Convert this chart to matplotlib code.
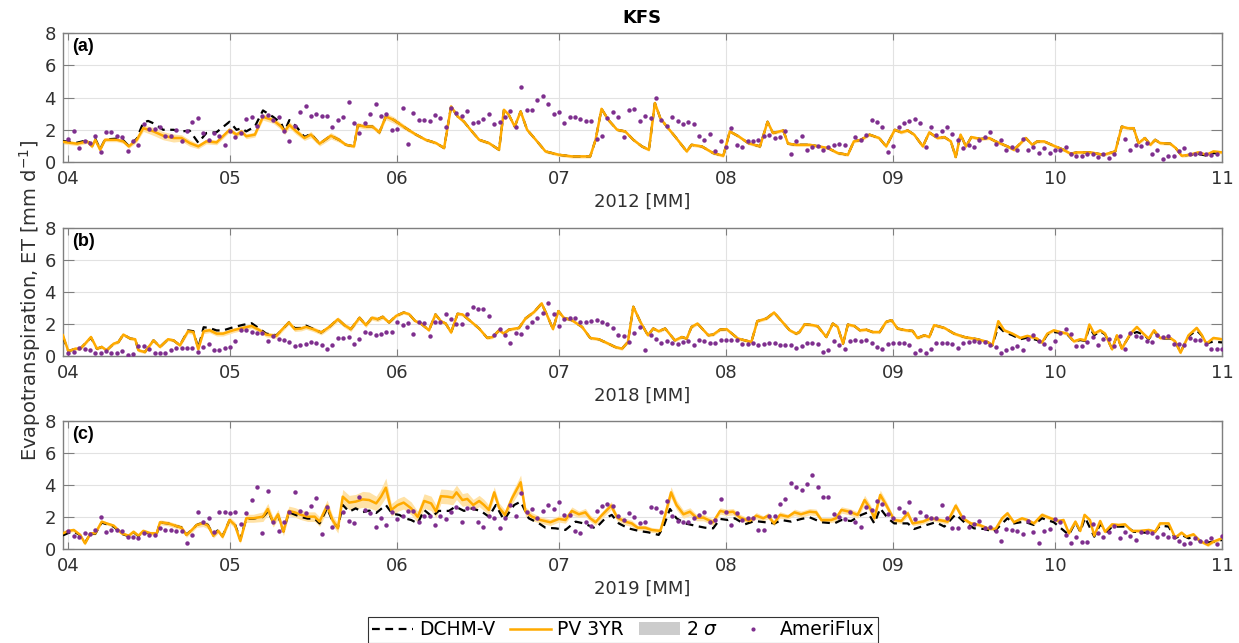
# -*- coding: utf-8 -*-
"""
KFS 站点蒸散发对比：DCHM-V / PV 3YR (2σ) / AmeriFlux，2012、2018、2019 三个生长季。
输出：out.png
"""

import numpy as np
import pandas as pd
import matplotlib
matplotlib.use("Agg")
import matplotlib.pyplot as plt
import matplotlib.dates as mdates
from matplotlib.lines import Line2D
from matplotlib.patches import Patch

matplotlib.rcParams["font.family"] = ["DejaVu Sans"]

ORANGE = "#FFAA00"
BAND = "#FFE2A6"
PURPLE = "#7E2F8E"
AXIS_GRAY = "#7F7F7F"
TEXT_GRAY = "#303030"

# ---- 2012 ----  (days since Apr 1)
PV_DAY_2012 = [
    -1, 1.6, 3.5, 4.4, 5, 5.9, 6.8, 9, 10.2, 11.2,
    12.7, 13.9, 15.8, 17.6, 19.5, 21, 22.5, 24.1, 25.6, 27.5,
    29.9, 31.2, 32.1, 33, 34.6, 36.1, 38, 39.5, 40.1, 41,
    42.3, 43.8, 45, 46.6, 48.7, 50.2, 51.5, 53, 53.7, 55,
    56.4, 57.7, 58.9, 60.4, 62.6, 64.5, 66.3, 68.2, 69.7, 71,
    72.2, 73.4, 74.6, 76.2, 78, 79.9, 80.8, 81.7, 82.8, 83.9,
    85.1, 86.7, 88.5, 91, 93.4, 96.8, 97.8, 98.9, 100.2, 101.8,
    103.3, 104.8, 106.4, 107.7, 108.8, 109.8, 111, 112.5, 114.7, 115.6,
    117.5, 119.6, 121.5, 122.7, 124.3, 126.1, 128.3, 129.7, 130.7, 132.6,
    133.5, 135, 137.5, 140.9, 142.7, 144.6, 145.7, 147, 148.6, 150.4,
    151.7, 153.3, 154.5, 155.7, 156.9, 158.5, 159.7, 161.2, 162.5, 163.7,
    164.6, 165.5, 166.5, 167.5, 169.2, 170.8, 172, 174.2, 175.4, 177.6,
    178.8, 179.7, 181, 182.8, 184.6, 185.9, 187.1, 189.6, 192, 194.2,
    195.4, 196.5, 197.6, 198.5, 199.7, 200.7, 201.6, 202.5, 204.4, 205.4,
    206.5, 208, 209.6, 211.1, 212.4, 214,
]
PV_ET_2012 = [
    1.25, 1.14, 1.28, 0.97, 1.38, 0.76, 1.38, 1.38, 1.28, 0.97,
    1.38, 2.1, 1.9, 1.63, 1.49, 1.49, 1.18, 0.97, 1.28, 1.22,
    2.0, 1.7, 1.9, 1.6, 1.7, 2.8, 2.6, 2.2, 1.9, 2.3,
    1.9, 1.49, 1.7, 1.14, 1.63, 1.38, 1.07, 0.97, 2.3, 2.2,
    2.2, 1.84, 2.83, 2.6, 2.1, 1.7, 1.38, 1.18, 0.87, 3.45,
    2.83, 2.5, 2.0, 1.38, 1.18, 0.76, 3.24, 2.93, 2.2, 3.14,
    2.0, 1.38, 0.66, 0.45, 0.35, 0.35, 1.38, 3.3, 2.6, 2.0,
    1.9, 1.38, 0.97, 0.76, 3.66, 2.73, 2.2, 1.6, 0.66, 1.07,
    0.97, 0.56, 0.39, 1.9, 1.6, 1.18, 0.97, 2.5, 1.8, 1.96,
    1.14, 1.07, 1.07, 0.87, 0.56, 0.45, 1.28, 1.38, 1.7, 1.49,
    0.97, 2.0, 1.84, 1.96, 1.7, 0.97, 1.84, 1.49, 1.55, 1.28,
    0.31, 1.7, 0.97, 1.55, 1.43, 1.49, 1.28, 0.97, 0.76, 1.49,
    1.07, 1.28, 1.28, 1.01, 0.76, 0.52, 0.6, 0.6, 0.45, 0.66,
    2.2, 2.1, 2.1, 1.18, 1.49, 1.07, 1.38, 1.18, 1.14, 0.87,
    0.39, 0.45, 0.6, 0.45, 0.66, 0.6,
]
PV_SIG_2012 = [
    0.12, 0.12, 0.12, 0.12, 0.12, 0.12, 0.12, 0.12, 0.12, 0.12,
    0.15, 0.2, 0.25, 0.25, 0.25, 0.2, 0.2, 0.15, 0.15, 0.15,
    0.15, 0.15, 0.15, 0.15, 0.15, 0.2, 0.2, 0.2, 0.2, 0.2,
    0.2, 0.15, 0.2, 0.15, 0.2, 0.15, 0.1, 0.1, 0.15, 0.15,
    0.15, 0.15, 0.2, 0.2, 0.15, 0.1, 0.1, 0.1, 0.1, 0.12,
    0.1, 0.1, 0.1, 0.1, 0.1, 0.1, 0.1, 0.1, 0.1, 0.1,
    0.1, 0.1, 0.1, 0.1, 0.1, 0.1, 0.1, 0.1, 0.1, 0.1,
    0.1, 0.1, 0.1, 0.1, 0.1, 0.1, 0.1, 0.1, 0.1, 0.1,
    0.1, 0.1, 0.1, 0.1, 0.1, 0.1, 0.1, 0.1, 0.1, 0.1,
    0.1, 0.1, 0.1, 0.1, 0.1, 0.1, 0.1, 0.1, 0.1, 0.1,
    0.1, 0.1, 0.1, 0.1, 0.1, 0.1, 0.1, 0.1, 0.1, 0.1,
    0.1, 0.1, 0.1, 0.1, 0.1, 0.1, 0.1, 0.1, 0.1, 0.1,
    0.1, 0.1, 0.1, 0.1, 0.1, 0.1, 0.1, 0.1, 0.1, 0.1,
    0.1, 0.1, 0.1, 0.1, 0.1, 0.1, 0.1, 0.1, 0.1, 0.1,
    0.1, 0.1, 0.1, 0.1, 0.1, 0.1,
]
DCHM_DAY_2012 = [
    -1, 1.6, 3.5, 4.4, 5, 5.9, 6.8, 9, 10.2, 11.2,
    12.7, 13.9, 14.8, 15.8, 17.6, 19.5, 21, 22.5, 24.1, 25.6,
    27.5, 29.9, 31.2, 32.1, 33, 34.6, 36.1, 38, 39.5, 40.1,
    41, 42.3, 43.8, 45, 46.6, 48.7, 50.2, 51.5, 53, 53.7,
    55, 56.4, 57.7, 58.9, 60.4, 62.6, 64.5, 66.3, 68.2, 69.7,
    71, 72.2, 73.4, 74.6, 76.2, 78, 79.9, 80.8, 81.7, 82.8,
    83.9, 85.1, 86.7, 88.5, 91, 93.4, 96.8, 97.8, 98.9, 100.2,
    101.8, 103.3, 104.8, 106.4, 107.7, 108.8, 109.8, 111, 112.5, 114.7,
    115.6, 117.5, 119.6, 121.5, 122.7, 124.3, 126.1, 128.3, 129.7, 130.7,
    132.6, 133.5, 135, 137.5, 140.9, 142.7, 144.6, 145.7, 147, 148.6,
    150.4, 151.7, 153.3, 154.5, 155.7, 156.9, 158.5, 159.7, 161.2, 162.5,
    163.7, 164.6, 165.5, 166.5, 167.5, 169.2, 170.8, 172, 174.2, 175.4,
    177.6, 178.8, 179.7, 181, 182.8, 184.6, 185.9, 187.1, 189.6, 192,
    194.2, 195.4, 196.5, 197.6, 198.5, 199.7, 200.7, 201.6, 202.5, 204.4,
    205.4, 206.5, 208, 209.6, 211.1, 212.4, 214,
]
DCHM_ET_2012 = [
    1.3, 1.2, 1.35, 1.0, 1.45, 0.8, 1.4, 1.45, 1.35, 1.0,
    1.45, 2.45, 2.55, 2.4, 2.0, 2.0, 1.9, 1.95, 1.2, 1.8,
    1.85, 2.5, 2.0, 2.1, 1.9, 2.2, 3.2, 2.8, 2.4, 1.9,
    2.6, 2.2, 1.55, 1.75, 1.14, 1.63, 1.38, 1.07, 0.97, 2.3,
    2.2, 2.2, 1.84, 2.83, 2.6, 2.1, 1.7, 1.38, 1.18, 0.87,
    3.45, 2.83, 2.5, 2.0, 1.38, 1.18, 0.76, 3.24, 2.93, 2.2,
    3.14, 2.0, 1.38, 0.66, 0.45, 0.35, 0.35, 1.38, 3.3, 2.6,
    2.0, 1.9, 1.38, 0.97, 0.76, 3.66, 2.73, 2.2, 1.6, 0.66,
    1.07, 0.97, 0.56, 0.39, 1.9, 1.6, 1.18, 0.97, 2.5, 1.8,
    1.96, 1.14, 1.07, 1.07, 0.87, 0.56, 0.45, 1.28, 1.38, 1.7,
    1.49, 0.97, 2.0, 1.84, 1.96, 1.7, 0.97, 1.84, 1.49, 1.55,
    1.28, 0.31, 1.7, 0.97, 1.55, 1.43, 1.49, 1.28, 0.97, 0.76,
    1.49, 1.07, 1.28, 1.28, 1.01, 0.76, 0.52, 0.6, 0.6, 0.45,
    0.66, 2.2, 2.1, 2.1, 1.18, 1.49, 1.07, 1.38, 1.18, 1.14,
    0.87, 0.39, 0.45, 0.5, 0.4, 0.55, 0.55,
]
FLUX_ET_2012 = [
    1.43, 1.9, 0.87, 1.28, 1.18, 1.59, 0.6, 1.84, 1.84, 1.63,
    1.55, 0.66, 1.28, 1.03, 2.38, 2.05, 2.05, 2.2, 1.63, 1.59,
    2.0, 1.28, 1.9, 2.46, 2.73, 1.8, 1.38, 1.8, 1.63, 1.07,
    1.9, 1.55, 1.8, 2.67, 2.79, 2.25, 2.83, 2.93, 2.58, 2.79,
    1.94, 1.28, 2.25, 3.08, 3.49, 2.87, 3.0, 2.87, 2.87, 2.2,
    2.58, 2.79, 3.7, 2.42, 1.8, 2.42, 2.95, 3.62, 2.83, 3.0,
    1.96, 2.05, 3.35, 1.14, 3.04, 2.58, 2.62, 2.52, 2.93, 2.73,
    2.2, 3.35, 3.04, 2.87, 3.18, 2.42, 2.48, 2.67, 3.0, 2.38,
    2.46, 2.79, 3.14, 2.2, 4.65, 3.2, 3.2, 3.82, 4.07, 3.62,
    2.95, 3.08, 2.42, 2.79, 2.79, 2.67, 2.56, 2.56, 1.43, 1.63,
    2.73, 3.08, 2.79, 1.55, 3.24, 3.28, 2.54, 2.83, 2.75, 3.97,
    2.62, 2.25, 2.79, 2.52, 2.38, 2.5, 2.33, 1.59, 1.34, 1.76,
    0.66, 1.28, 0.93, 2.1, 1.07, 0.93, 1.3, 1.3, 1.38, 1.63,
    1.7, 1.51, 1.55, 1.9, 0.52, 1.28, 1.59, 0.76, 0.93, 0.97,
    0.76, 0.93, 1.03, 1.1, 1.03, np.nan, 1.55, 1.38, 1.69, 2.58,
    2.5, 2.19, 0.62, 0.97, 2.17, 2.42, 2.52, 2.69, 2.42, 0.91,
    2.15, 1.69, 1.94, 2.15, 1.76, 1.34, 0.87, 1.03, 0.93, 1.34,
    1.55, 1.84, 1.1, 1.38, 0.76, 0.93, 0.76, 1.43, 0.72, 0.93,
    0.56, 0.85, 0.56, 0.76, 0.76, 0.91, 0.5, 0.35, 0.35, 0.52,
    0.52, 0.31, 0.52, 0.25, 0.52, np.nan, 1.43, 0.76, 1.05, 0.97,
    1.18, 0.48, 0.72, 0.19, 0.39, 0.39, 0.66, 0.85, 0.52, 0.48,
    0.56, 0.52, 0.45, 0.52,
]

# ---- 2018 ----
PV_DAY_2018 = [
    -1, 0, 1.3, 2.2, 3.1, 4.2, 5.3, 6.2, 7.1, 8.4,
    9.3, 10.2, 11.5, 12.4, 13, 14.2, 15.8, 17, 18.5, 19.5,
    20.7, 22.2, 23.2, 24.1, 25.1, 26.2, 27.5, 28.7, 30.6, 32.4,
    34, 35.5, 36.7, 38.6, 39.5, 40.9, 42, 43.2, 44.1, 45.4,
    46.9, 48.4, 50, 51.2, 52.4, 54, 55.2, 56.3, 57.4, 58.3,
    59.5, 60.8, 62.2, 63.2, 64.3, 65.4, 66.9, 68.1, 69.1, 70,
    71, 72.2, 73.1, 74.6, 76.2, 77.7, 78.7, 79.9, 80.8, 81.7,
    83.6, 84.8, 86.4, 87.8, 88.8, 89.9, 90.9, 91.9, 93.4, 95.3,
    96.8, 98.4, 100.2, 101.4, 102.7, 103.8, 104.8, 106.1, 107.5, 108.5,
    109.5, 110.7, 112.5, 113.8, 114.7, 115.6, 116.7, 118.7, 119.6, 120.9,
    122.1, 124.2, 126.7, 127.8, 129.5, 130.9, 132.3, 133.8, 135, 135.6,
    136.6, 138.1, 139, 140.6, 141.8, 142.7, 143.7, 144.6, 145.8, 146.8,
    148, 149.2, 150.5, 151.7, 152.7, 153.8, 155.4, 156.6, 157.5, 158.8,
    159.7, 160.6, 162.5, 164.3, 166.2, 168.6, 170.5, 171.4, 172.5, 173.6,
    175.1, 176.6, 177.9, 179.7, 180.6, 181.6, 182.8, 184, 185.3, 186.5,
    187.7, 188.6, 189.4, 190.3, 191.4, 192.3, 193.6, 194.5, 195.4, 197,
    198.2, 199.4, 200.4, 201.4, 202.5, 204.4, 205.3, 206.3, 207.8, 209.3,
    210.2, 211.1, 212.4, 214,
]
PV_ET_2018 = [
    1.3, 0.3, 0.46, 0.46, 0.77, 1.19, 0.46, 0.57, 0.36, 0.77,
    0.88, 1.34, 1.09, 1.05, 0.36, 0.25, 0.98, 0.57, 1.05, 0.98,
    0.67, 1.55, 1.5, 0.42, 1.55, 1.61, 1.4, 1.4, 1.61, 1.76,
    1.88, 1.61, 1.34, 1.26, 1.61, 2.1, 1.68, 1.72, 1.82, 1.68,
    1.47, 1.82, 2.3, 1.93, 1.68, 2.39, 1.93, 2.39, 2.3, 2.45,
    2.1, 2.51, 2.72, 2.62, 2.2, 2.03, 1.61, 2.6, 2.18, 2.03,
    1.47, 2.64, 2.6, 2.18, 1.72, 1.13, 1.19, 1.61, 1.4, 1.65,
    1.76, 2.35, 2.76, 3.29, 2.55, 1.68, 2.81, 2.39, 2.24, 1.82,
    1.13, 1.05, 0.77, 0.57, 0.46, 0.88, 3.08, 2.14, 1.3, 1.72,
    1.55, 1.72, 0.98, 1.19, 1.09, 1.82, 2.03, 1.3, 1.34, 1.65,
    1.68, 1.09, 0.88, 2.18, 2.35, 2.72, 2.18, 1.61, 1.4, 1.5,
    1.99, 1.93, 1.86, 1.19, 2.03, 1.82, 0.77, 1.97, 1.88, 1.61,
    1.65, 1.5, 1.5, 2.14, 2.24, 1.72, 1.61, 1.57, 1.13, 1.3,
    1.19, 1.93, 1.76, 1.4, 1.19, 1.05, 0.88, 0.67, 2.18, 1.61,
    1.4, 1.13, 1.26, 1.09, 0.84, 1.4, 1.61, 1.5, 1.4, 0.92,
    1.05, 0.98, 1.97, 1.4, 1.61, 1.4, 0.42, 1.3, 0.46, 1.4,
    1.82, 1.4, 1.09, 1.61, 1.13, 1.13, 0.92, 0.21, 1.3, 1.76,
    1.34, 0.77, 1.13, 1.05,
]
PV_SIG_2018 = [
    0.1, 0.1, 0.1, 0.1, 0.1, 0.1, 0.1, 0.1, 0.1, 0.1,
    0.1, 0.1, 0.1, 0.1, 0.1, 0.1, 0.1, 0.1, 0.1, 0.1,
    0.12, 0.15, 0.15, 0.12, 0.15, 0.15, 0.15, 0.15, 0.15, 0.15,
    0.15, 0.15, 0.15, 0.15, 0.15, 0.15, 0.15, 0.15, 0.15, 0.15,
    0.15, 0.15, 0.15, 0.15, 0.15, 0.15, 0.15, 0.15, 0.15, 0.15,
    0.1, 0.1, 0.1, 0.1, 0.1, 0.1, 0.1, 0.1, 0.1, 0.1,
    0.1, 0.1, 0.1, 0.1, 0.1, 0.1, 0.1, 0.1, 0.1, 0.1,
    0.1, 0.1, 0.1, 0.1, 0.1, 0.1, 0.1, 0.1, 0.1, 0.1,
    0.1, 0.1, 0.1, 0.1, 0.1, 0.1, 0.1, 0.1, 0.1, 0.1,
    0.1, 0.1, 0.1, 0.1, 0.1, 0.1, 0.1, 0.1, 0.1, 0.1,
    0.1, 0.1, 0.1, 0.1, 0.1, 0.1, 0.1, 0.1, 0.1, 0.1,
    0.1, 0.1, 0.1, 0.1, 0.1, 0.1, 0.1, 0.1, 0.1, 0.1,
    0.1, 0.1, 0.1, 0.1, 0.1, 0.1, 0.1, 0.1, 0.1, 0.1,
    0.1, 0.1, 0.1, 0.1, 0.1, 0.1, 0.1, 0.1, 0.1, 0.1,
    0.1, 0.1, 0.1, 0.1, 0.1, 0.1, 0.1, 0.1, 0.1, 0.1,
    0.1, 0.1, 0.1, 0.1, 0.1, 0.1, 0.1, 0.1, 0.1, 0.1,
    0.1, 0.1, 0.1, 0.1, 0.1, 0.1, 0.1, 0.1, 0.1, 0.1,
    0.1, 0.1, 0.1, 0.1,
]
DCHM_DAY_2018 = [
    -1, 0, 1.3, 2.2, 3.1, 4.2, 5.3, 6.2, 7.1, 8.4,
    9.3, 10.2, 11.5, 12.4, 13, 14.2, 15.8, 17, 18.5, 19.5,
    20.7, 22.2, 23.2, 24.1, 25.1, 26.2, 27.5, 28.7, 30.6, 32.4,
    34, 35.5, 36.7, 38.6, 39.5, 40.9, 42, 43.2, 44.1, 45.4,
    46.9, 48.4, 50, 51.2, 52.4, 54, 55.2, 56.3, 57.4, 58.3,
    59.5, 60.8, 62.2, 63.2, 64.3, 65.4, 66.9, 68.1, 69.1, 70,
    71, 72.2, 73.1, 74.6, 76.2, 77.7, 78.7, 79.9, 80.8, 81.7,
    83.6, 84.8, 86.4, 87.8, 88.8, 89.9, 90.9, 91.9, 93.4, 95.3,
    96.8, 98.4, 100.2, 101.4, 102.7, 103.8, 104.8, 106.1, 107.5, 108.5,
    109.5, 110.7, 112.5, 113.8, 114.7, 115.6, 116.7, 118.7, 119.6, 120.9,
    122.1, 124.2, 126.7, 127.8, 129.5, 130.9, 132.3, 133.8, 135, 135.6,
    136.6, 138.1, 139, 140.6, 141.8, 142.7, 143.7, 144.6, 145.8, 146.8,
    148, 149.2, 150.5, 151.7, 152.7, 153.8, 155.4, 156.6, 157.5, 158.8,
    159.7, 160.6, 162.5, 164.3, 166.2, 168.6, 170.5, 171.4, 172.5, 173.6,
    175.1, 176.6, 177.9, 179.7, 180.6, 181.6, 182.8, 184, 185.3, 186.5,
    187.7, 188.6, 189.4, 190.3, 191.4, 192.3, 193.6, 194.5, 195.4, 197,
    198.2, 199.4, 200.4, 201.4, 202.5, 204.4, 205.3, 206.3, 207.8, 209.3,
    210.2, 211.1, 212.4, 214,
]
DCHM_ET_2018 = [
    1.2, 0.3, 0.46, 0.46, 0.77, 1.15, 0.46, 0.57, 0.36, 0.77,
    0.88, 1.34, 1.09, 1.05, 0.36, 0.25, 0.98, 0.57, 1.05, 0.98,
    0.67, 1.6, 1.55, 0.5, 1.8, 1.75, 1.6, 1.6, 1.8, 1.95,
    2.05, 1.7, 1.4, 1.3, 1.6, 2.1, 1.75, 1.75, 1.9, 1.7,
    1.47, 1.82, 2.3, 1.93, 1.68, 2.39, 1.93, 2.39, 2.3, 2.45,
    2.1, 2.51, 2.72, 2.62, 2.2, 2.03, 1.61, 2.6, 2.18, 2.03,
    1.47, 2.64, 2.6, 2.18, 1.72, 1.13, 1.19, 1.61, 1.4, 1.65,
    1.76, 2.35, 2.76, 3.29, 2.55, 1.68, 2.81, 2.39, 2.24, 1.82,
    1.13, 1.05, 0.77, 0.57, 0.46, 0.88, 3.08, 2.14, 1.3, 1.72,
    1.55, 1.72, 0.98, 1.19, 1.09, 1.82, 2.03, 1.3, 1.34, 1.65,
    1.68, 1.09, 0.88, 2.18, 2.35, 2.72, 2.18, 1.61, 1.4, 1.5,
    1.99, 1.93, 1.86, 1.19, 2.03, 1.82, 0.77, 1.97, 1.88, 1.61,
    1.65, 1.5, 1.5, 2.14, 2.24, 1.72, 1.61, 1.57, 1.13, 1.3,
    1.19, 1.93, 1.76, 1.4, 1.19, 1.05, 0.88, 0.67, 1.85, 1.5,
    1.3, 1.05, 1.15, 1.0, 0.8, 1.35, 1.5, 1.45, 1.35, 0.92,
    1.0, 0.95, 1.8, 1.3, 1.55, 1.35, 0.45, 1.25, 0.5, 1.35,
    1.5, 1.35, 1.05, 1.55, 1.1, 1.1, 0.9, 0.25, 1.25, 1.6,
    1.3, 0.8, 0.9, 0.85,
]
FLUX_ET_2018 = [
    0.21, 0.25, 0.5, 0.42, 0.36, 0.21, 0.21, 0.29, 0.21, 0.21,
    0.29, 0.08, 0.15, 0.63, 0.63, 0.42, 0.21, 0.21, 0.17, 0.36,
    0.5, 0.5, 0.5, 0.5, 0.25, 0.57, 0.77, 0.38, 0.38, 0.5,
    0.54, 0.92, 1.61, 1.61, 1.5, 1.47, 1.47, 0.96, 1.26, 1.05,
    0.98, 0.88, 0.63, 0.71, 0.77, 0.88, 0.84, 0.71, 0.42, 0.67,
    1.13, 1.1, 1.17, 0.75, 1.06, 1.52, 1.42, 1.31, 1.38, 1.48,
    1.48, 2.15, 1.94, 2.04, 1.35, 2.15, 2.04, 1.27, 2.15, 2.15,
    2.6, 2.29, 2.0, 2.0, 2.63, 3.08, 2.93, 2.93, 2.51, 1.34,
    1.72, 1.3, 0.82, 1.45, 1.38, 1.82, 2.14, 2.35, 2.72, 3.29,
    2.6, 1.88, 2.3, 2.39, 2.35, 2.1, 2.14, 2.18, 2.24, 2.14,
    2.03, 1.76, 1.34, 1.26, 0.88, 1.47, 1.82, 0.38, 1.34, 1.09,
    0.82, 0.92, 0.84, 0.75, 0.88, 0.96, 0.71, 1.0, 0.96, 0.84,
    0.84, 1.03, 0.98, 0.98, 0.98, 0.77, 0.77, 0.82, 0.71, 0.75,
    0.82, 0.82, 0.71, 0.71, 0.71, 0.52, 0.63, 0.82, 0.82, 0.77,
    0.25, 0.36, 0.92, 0.71, 0.42, 0.92, 0.98, 0.92, 0.98, 0.84,
    0.57, 0.42, 0.77, 0.84, 0.84, 0.84, 0.71, 0.21, 0.36, 0.21,
    0.46, 0.82, 0.82, 0.82, 0.77, 0.5, 0.82, 0.88, 0.92, 0.88,
    0.88, 0.71, 0.57, 0.21, 0.36, 0.5, 0.61, 0.36, 1.09, 1.3,
    0.92, 0.77, 0.5, 0.92, 1.47, 1.68, 1.36, 0.63, 0.63, 0.88,
    1.19, 0.67, 1.05, 1.05, 0.61, 1.26, 0.42, 1.47, 1.26, 1.19,
    0.92, 0.88, 1.3, 1.19, 1.26, 0.77, 0.77, 0.71, 1.13, 0.98,
    0.98, 0.77, 0.46, 0.46, 0.46,
]

# ---- 2019 ----
PV_DAY_2019 = [
    -1, 0, 1, 2.2, 3.1, 4.1, 5, 6.2, 7.1, 8.4,
    9.9, 11.2, 12.1, 13, 13.9, 15.2, 16.4, 17, 18.5, 19.8,
    21, 21.9, 22.9, 23.8, 25, 25.9, 26.9, 27.8, 28.6, 29.9,
    30.9, 31.9, 33, 34.3, 36.1, 37, 38, 38.9, 39.9, 40.9,
    42, 43.2, 44.4, 45.7, 46.6, 48, 49, 50, 50.9, 52.1,
    53.3, 54.6, 55.8, 57.1, 58, 58.9, 59.9, 61.1, 62.2, 63.6,
    64.8, 66, 67.3, 68.2, 69.1, 70.3, 71.3, 72, 73.1, 74,
    75.1, 76.2, 77.1, 78, 79, 79.9, 81, 82.3, 83.9, 84.8,
    86, 87.6, 89.4, 91, 92.2, 93.4, 94.7, 95.9, 96.8, 97.8,
    99, 100.7, 101.8, 103.3, 104.5, 105.6, 107, 108.2, 109.8, 110.7,
    111.8, 112.8, 114.1, 115.3, 116.5, 117.8, 119.6, 120.9, 122.1, 123.3,
    124.6, 126.4, 127.6, 128.9, 129.8, 130.9, 132, 133.5, 134.7, 135.9,
    137.5, 138.7, 139.7, 141.5, 142.4, 143.4, 144.9, 146.4, 147.7, 148.8,
    149.5, 150.6, 151.7, 153.2, 154.5, 155.7, 156.6, 158.5, 160, 161.5,
    163.1, 164.6, 165.9, 167.4, 169, 170.5, 172, 173.2, 174.2, 175.4,
    176.9, 177.9, 179.1, 180.6, 182.2, 183.7, 184.6, 185.6, 186.8, 187.7,
    188.5, 189.5, 190.3, 191.4, 192.3, 193.6, 194.8, 196, 197.3, 198.8,
    200.4, 201.6, 202.5, 204.1, 205.3, 206.5, 207.4, 208.7, 209.9, 211.4,
    212.4, 214,
]
PV_ET_2019 = [
    0.98, 1.13, 1.19, 0.88, 0.35, 0.98, 0.98, 1.71, 1.6, 1.46,
    0.98, 0.83, 1.08, 0.83, 1.13, 0.98, 0.98, 1.67, 1.6, 1.46,
    1.33, 0.88, 1.19, 1.5, 1.6, 1.46, 0.83, 1.13, 0.77, 1.81,
    1.5, 0.5, 1.92, 1.92, 2.02, 2.5, 1.67, 2.17, 1.08, 2.38,
    2.29, 2.13, 2.02, 2.02, 1.71, 2.71, 1.81, 1.29, 3.27, 2.9,
    2.96, 3.1, 3.06, 2.85, 3.27, 3.83, 2.44, 2.75, 2.9, 2.54,
    2.0, 3.0, 2.85, 2.35, 3.3, 3.27, 3.21, 3.54, 3.06, 3.13,
    2.75, 3.0, 2.75, 2.44, 3.54, 2.58, 2.13, 3.17, 4.17, 2.33,
    2.02, 1.81, 1.67, 1.88, 1.81, 2.38, 2.17, 2.29, 1.92, 1.67,
    2.13, 2.71, 1.96, 1.71, 1.6, 1.33, 1.33, 1.19, 1.13, 2.13,
    3.54, 2.75, 2.17, 2.33, 1.96, 1.96, 1.67, 2.38, 2.29, 2.33,
    1.96, 1.75, 2.08, 1.92, 2.08, 1.6, 2.13, 2.02, 2.29, 2.17,
    2.33, 2.29, 1.81, 1.81, 1.92, 2.44, 2.33, 2.13, 3.06, 2.5,
    1.92, 3.38, 2.75, 1.81, 1.75, 2.23, 1.6, 1.71, 1.92, 1.81,
    1.71, 2.71, 1.92, 1.6, 1.5, 1.29, 1.25, 1.92, 2.23, 1.67,
    1.92, 1.81, 1.6, 2.13, 1.92, 1.75, 1.81, 0.98, 1.71, 1.13,
    2.13, 1.81, 0.83, 1.75, 1.08, 1.54, 1.5, 1.54, 1.13, 1.13,
    1.19, 1.08, 1.6, 1.6, 0.71, 1.02, 0.77, 0.92, 0.5, 0.25,
    0.46, 0.67,
]
PV_SIG_2019 = [
    0.1, 0.1, 0.1, 0.1, 0.1, 0.1, 0.1, 0.1, 0.1, 0.1,
    0.1, 0.1, 0.1, 0.1, 0.12, 0.12, 0.12, 0.15, 0.15, 0.15,
    0.15, 0.15, 0.15, 0.15, 0.2, 0.2, 0.15, 0.15, 0.15, 0.2,
    0.2, 0.15, 0.25, 0.25, 0.3, 0.35, 0.3, 0.3, 0.25, 0.3,
    0.3, 0.3, 0.3, 0.3, 0.3, 0.35, 0.3, 0.3, 0.45, 0.45,
    0.45, 0.5, 0.5, 0.45, 0.5, 0.6, 0.4, 0.4, 0.4, 0.4,
    0.35, 0.45, 0.45, 0.4, 0.45, 0.45, 0.45, 0.45, 0.4, 0.4,
    0.35, 0.35, 0.35, 0.3, 0.35, 0.3, 0.3, 0.35, 0.45, 0.3,
    0.25, 0.2, 0.2, 0.2, 0.2, 0.25, 0.2, 0.25, 0.2, 0.2,
    0.2, 0.25, 0.2, 0.2, 0.2, 0.15, 0.15, 0.15, 0.15, 0.25,
    0.35, 0.3, 0.25, 0.25, 0.2, 0.2, 0.2, 0.2, 0.2, 0.2,
    0.2, 0.15, 0.2, 0.15, 0.2, 0.15, 0.2, 0.15, 0.2, 0.2,
    0.2, 0.2, 0.15, 0.15, 0.2, 0.2, 0.2, 0.2, 0.3, 0.25,
    0.2, 0.3, 0.25, 0.15, 0.15, 0.2, 0.15, 0.15, 0.15, 0.15,
    0.15, 0.2, 0.15, 0.12, 0.12, 0.12, 0.12, 0.15, 0.15, 0.12,
    0.12, 0.12, 0.12, 0.15, 0.12, 0.12, 0.12, 0.1, 0.12, 0.1,
    0.12, 0.1, 0.1, 0.1, 0.1, 0.1, 0.1, 0.1, 0.1, 0.1,
    0.1, 0.1, 0.1, 0.1, 0.1, 0.1, 0.1, 0.1, 0.1, 0.1,
    0.1, 0.1,
]
DCHM_DAY_2019 = [
    -1, 0, 1, 2.2, 3.1, 4.1, 5, 6.2, 7.1, 8.4,
    9.9, 11.2, 12.1, 13, 13.9, 15.2, 16.4, 17, 18.5, 19.8,
    21, 21.9, 22.9, 23.8, 25, 25.9, 26.9, 27.8, 28.6, 29.9,
    30.9, 31.9, 33, 34.3, 36.1, 37, 38, 38.9, 39.9, 40.9,
    42, 43.2, 44.4, 45.7, 46.6, 48, 49, 50, 50.9, 52.1,
    53.3, 54.6, 55.8, 57.1, 58.9, 60.1, 61.4, 62.6, 63.6, 64.8,
    66, 67.5, 68.7, 70.6, 71.8, 73.4, 74.6, 76.5, 78, 79.3,
    80.8, 82.7, 83.9, 85.4, 87.3, 88.5, 90.4, 92.2, 94.1, 95.6,
    97.8, 99.6, 100.8, 102.1, 103.9, 105.8, 107.6, 109.5, 110.4, 111.6,
    112.8, 114.4, 116.2, 118.1, 119.6, 120.9, 122.4, 123.6, 125.5, 127.3,
    129.2, 131, 132.3, 134.1, 136, 137.5, 139.7, 142.1, 143.4, 145.2,
    147.1, 148.3, 149.5, 150.6, 152, 153.2, 155.7, 156.9, 158.8, 160.9,
    162.5, 164.6, 166.2, 168, 169.9, 171.7, 174.2, 175.4, 177.3, 179.1,
    180.6, 182.8, 185.6, 186.8, 187.7, 188.6, 190.3, 191.4, 192.7, 193.6,
    196.3, 197.6, 201.3, 202.5, 204.1, 205.3, 206.5, 207.8, 209, 210.2,
    211.8, 214,
]
DCHM_ET_2019 = [
    0.85, 1.0, 1.1, 0.85, 0.4, 0.95, 0.95, 1.65, 1.55, 1.4,
    0.95, 0.8, 1.05, 0.8, 1.1, 0.95, 0.95, 1.65, 1.6, 1.45,
    1.35, 0.9, 1.2, 1.5, 1.65, 1.5, 0.85, 1.2, 0.8, 1.8,
    1.55, 0.6, 1.9, 1.9, 2.0, 2.35, 1.7, 2.1, 1.1, 2.3,
    2.15, 2.0, 1.9, 1.9, 1.6, 2.55, 1.75, 1.33, 2.75, 2.33,
    2.54, 2.3, 2.4, 2.25, 2.75, 2.2, 2.13, 1.9, 1.81, 1.6,
    2.44, 2.02, 2.38, 2.38, 2.65, 2.38, 2.54, 2.38, 2.02, 2.75,
    1.81, 2.75, 2.96, 1.92, 1.6, 1.33, 1.29, 1.19, 1.71, 1.6,
    1.29, 1.92, 2.13, 1.6, 1.29, 1.13, 1.04, 0.88, 1.4, 2.5,
    1.92, 1.6, 1.46, 1.33, 1.29, 1.88, 1.81, 1.92, 1.54, 1.75,
    1.67, 1.6, 1.81, 1.71, 1.88, 1.98, 1.67, 1.6, 1.81, 1.75,
    2.13, 2.29, 1.6, 2.54, 1.92, 1.6, 1.6, 1.25, 1.46, 1.67,
    1.4, 2.17, 1.67, 1.29, 1.25, 1.08, 1.92, 1.6, 1.71, 1.5,
    1.92, 1.67, 0.88, 1.67, 1.08, 1.96, 0.77, 1.54, 1.08, 1.4,
    1.4, 1.08, 0.98, 1.46, 1.4, 0.67, 0.88, 0.67, 0.77, 0.42,
    0.42, 0.56,
]
FLUX_ET_2019 = [
    1.13, 0.81, 0.77, 0.98, 0.92, 1.19, 1.98, 1.04, 1.17, 1.19,
    1.13, 0.77, 0.77, 0.71, 1.02, 0.88, 0.88, 1.29, 1.19, 1.19,
    1.13, 1.13, 0.35, 0.88, 2.29, 1.67, 1.92, 1.04, 2.33, 2.33,
    2.23, 2.33, 1.54, 2.23, 3.06, 3.9, 0.98, 3.63, 1.67, 1.13,
    1.67, 2.33, 3.58, 2.38, 2.23, 2.71, 3.21, 0.92, 2.65, 1.4,
    np.nan, 2.29, 1.75, 1.6, 3.27, 2.44, 2.27, 1.35, 1.92, 1.5,
    2.33, 1.85, 2.06, 2.4, 2.37, 1.69, 2.06, 2.06, 1.5, 2.06,
    1.85, 2.33, 2.65, 1.67, 2.54, 2.58, 1.67, 1.35, 2.08, 1.92,
    1.33, 1.92, 2.75, 2.08, 3.48, 2.29, 2.5, 1.96, 2.38, 2.75,
    2.5, 2.96, 2.13, 2.13, 1.13, 0.98, 1.67, 1.46, 2.38, 2.71,
    2.79, 2.71, 2.08, 1.81, 2.23, 2.02, 1.6, 1.67, 2.65, 2.58,
    2.29, 3.0, 2.08, 1.75, 1.67, 1.67, 1.92, 2.13, 2.29, 1.67,
    1.81, 3.13, 2.29, 1.5, 2.23, 1.81, 1.96, 1.96, 1.19, 1.19,
    2.08, 2.08, 2.79, 3.13, 4.1, 3.9, 3.69, 4.04, 4.63, 3.9,
    3.27, 3.27, 2.17, 2.02, 1.88, 2.29, 1.67, 1.35, 2.65, 2.44,
    3.0, 2.79, 2.17, 1.92, 2.54, 2.33, 2.92, 1.88, 2.33, 2.08,
    1.96, 1.92, 2.75, 1.92, 1.33, 1.29, 2.02, 1.4, 1.54, 1.75,
    1.29, 1.4, 1.13, 0.5, 1.25, 1.19, 1.13, 0.92, 1.75, 1.08,
    0.4, 1.13, 1.25, 1.88, 1.67, 0.88, 0.35, 0.77, 0.46, 0.46,
    1.54, 0.98, 0.77, 1.04, 1.46, 0.71, 1.04, 0.83, 0.56, 1.04,
    1.04, 0.98, 0.77, 0.92, 0.77, 0.77, 0.5, 0.29, 0.35, 0.71,
    0.5, 0.5, 0.67, 0.29, 0.83,
]

YEARS = [2012, 2018, 2019]
TAGS = ["(a)", "(b)", "(c)"]


def to_dates(year, days):
    return pd.Timestamp(f"{year}-04-01") + pd.to_timedelta(np.asarray(days, dtype=float), unit="D")


def draw_panel(ax, year, tag, pv_day, pv_et, pv_sig, dchm_day, dchm_et, flux_et):
    t_pv = to_dates(year, pv_day)
    pv = np.asarray(pv_et, dtype=float)
    sig = np.asarray(pv_sig, dtype=float)
    ax.fill_between(t_pv, pv - sig, pv + sig, color=BAND, lw=0, zorder=2)
    ax.plot(to_dates(year, dchm_day), dchm_et, color="black",
            linestyle=(0, (3.5, 2.5)), linewidth=1.6, zorder=3)
    ax.plot(t_pv, pv, color=ORANGE, linewidth=1.8, zorder=4)
    ax.plot(to_dates(year, np.arange(len(flux_et))), flux_et, linestyle="none",
            marker="o", markersize=3.2, markerfacecolor=PURPLE,
            markeredgecolor="none", zorder=5)

    ax.set_xlim(pd.Timestamp(f"{year}-03-31"), pd.Timestamp(f"{year}-11-01"))
    ax.set_ylim(0, 8)
    ax.set_yticks([0, 2, 4, 6, 8])
    ax.xaxis.set_major_locator(mdates.MonthLocator())
    ax.xaxis.set_major_formatter(mdates.DateFormatter("%m"))
    ax.grid(True, color="#E2E2E2", linewidth=0.8)
    ax.set_axisbelow(True)
    ax.tick_params(direction="in", top=True, right=True, color=AXIS_GRAY,
                   labelcolor=TEXT_GRAY, labelsize=13, width=0.8)
    ax.tick_params(axis="x", length=5, pad=6)
    ax.tick_params(axis="y", length=8, pad=5)
    for sp in ax.spines.values():
        sp.set_color(AXIS_GRAY)
        sp.set_linewidth(1.0)
    ax.set_xlabel(f"{year} [MM]", fontsize=13, color=TEXT_GRAY, labelpad=3)
    ax.text(0.008, 0.96, tag, transform=ax.transAxes, ha="left", va="top",
            fontsize=13, fontweight="bold", family="Liberation Sans", zorder=6)


if __name__ == "__main__":
    fig = plt.figure(figsize=(12.39, 6.43), dpi=100)
    rects = [
        [0.0508, 0.748, 0.9355, 0.2006],
        [0.0508, 0.4463, 0.9355, 0.1991],
        [0.0508, 0.1462, 0.9355, 0.1991],
    ]
    panels = [
        (PV_DAY_2012, PV_ET_2012, PV_SIG_2012, DCHM_DAY_2012, DCHM_ET_2012, FLUX_ET_2012),
        (PV_DAY_2018, PV_ET_2018, PV_SIG_2018, DCHM_DAY_2018, DCHM_ET_2018, FLUX_ET_2018),
        (PV_DAY_2019, PV_ET_2019, PV_SIG_2019, DCHM_DAY_2019, DCHM_ET_2019, FLUX_ET_2019),
    ]
    for rect, year, tag, data in zip(rects, YEARS, TAGS, panels):
        ax = fig.add_axes(rect)
        draw_panel(ax, year, tag, *data)

    fig.text(0.518, 0.972, "KFS", ha="center", va="center",
             fontsize=13, fontweight="bold")
    fig.text(0.024, 0.533, "Evapotranspiration, ET [mm d$^{-1}$]", rotation=90,
             ha="center", va="center", fontsize=14, color=TEXT_GRAY)

    handles = [
        Line2D([], [], color="black", linestyle=(0, (3.5, 2.5)), linewidth=1.6),
        Line2D([], [], color=ORANGE, linewidth=1.8),
        Patch(facecolor="#CCCCCC", edgecolor="none"),
        Line2D([], [], linestyle="none", marker="o", markersize=3,
               markerfacecolor=PURPLE, markeredgecolor="none"),
    ]
    labels = ["DCHM-V", "PV 3YR", "2 $\\sigma$", "AmeriFlux"]
    leg = fig.legend(handles, labels, loc="lower center", bbox_to_anchor=(0.503, 0.0),
                     ncol=4, frameon=True, fancybox=False, edgecolor="black",
                     fontsize=13.5, handlelength=2.2, handletextpad=0.3,
                     columnspacing=0.8, borderpad=0.2, borderaxespad=0.0)
    leg.get_frame().set_linewidth(0.8)
    for txt in leg.get_texts():
        txt.set_color("black")

    fig.savefig("out.png", dpi=100)
    plt.close(fig)
